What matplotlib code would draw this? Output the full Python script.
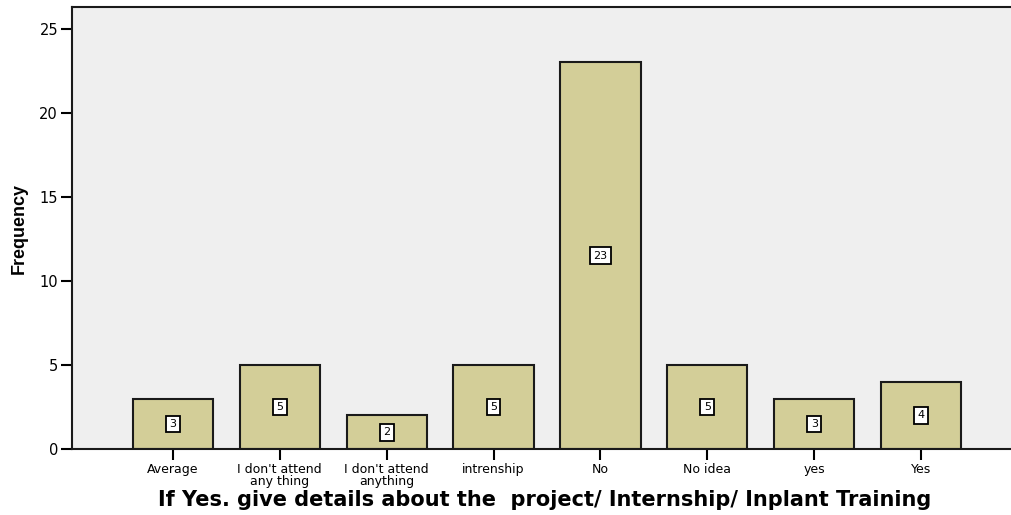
import matplotlib
matplotlib.use('Agg')
import matplotlib.pyplot as plt

plt.rcParams['font.family'] = ['DejaVu Sans']

categories = ['Average', "I don't attend\nany thing", "I don't attend\nanything",
              'intrenship', 'No', 'No idea', 'yes', 'Yes']
counts = [3, 5, 2, 5, 23, 5, 3, 4]
y_ticks = [0, 5, 10, 15, 20, 25]

fig = plt.figure(figsize=(10.11, 5.15), dpi=100)
ax = fig.add_axes([0.0712, 0.128, 0.935, 0.8584])
ax.set_facecolor('#efefef')

x = list(range(len(categories)))
ax.bar(x, counts, width=0.75, color='#d3ce98', edgecolor='#1a1a1a', linewidth=1.5, zorder=2)

# value labels in white boxes at mid height
for i, c in zip(x, counts):
    ax.text(i, c / 2, str(c), ha='center', va='center', fontsize=8, zorder=3,
            bbox=dict(boxstyle='square,pad=0.3', facecolor='white', edgecolor='black', linewidth=1.3))

ax.set_xlim(-0.944, 7.9)
ax.set_ylim(0, 26.3)
ax.set_yticks(y_ticks)
ax.set_xticks(x)
ax.set_xticklabels(categories, fontsize=9, linespacing=0.95)
ax.tick_params(axis='y', labelsize=10.5, length=8, width=1.5, direction='out', pad=2)
ax.tick_params(axis='x', length=8, width=1.5, direction='out', pad=2)

for s in ax.spines.values():
    s.set_linewidth(1.5)
    s.set_color('#1a1a1a')

ax.set_ylabel('Frequency', fontsize=13, fontweight='bold', labelpad=8,
              family='Liberation Sans')
ax.set_xlabel('If Yes. give details about the  project/ Internship/ Inplant Training',
              fontsize=15, fontweight='bold', labelpad=1)

fig.savefig('out.png', dpi=100)
